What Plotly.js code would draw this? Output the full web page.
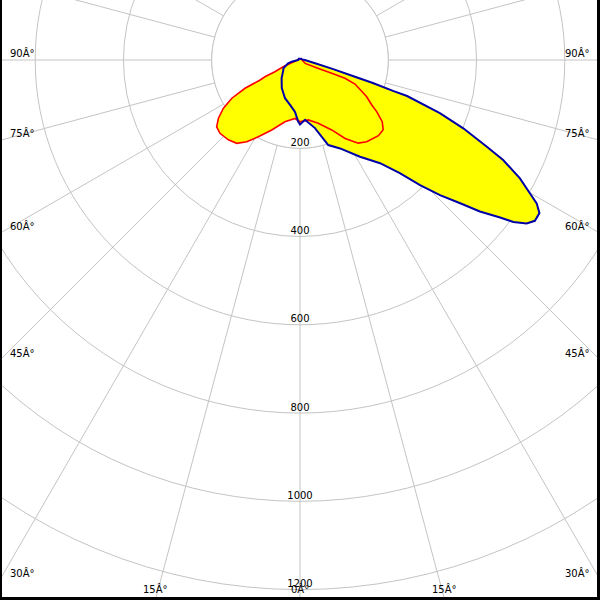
<!DOCTYPE html>
<html>
<head>
<meta charset="utf-8">
<script src="https://cdn.plot.ly/plotly-3.0.1.min.js"></script>
<style>
html,body{margin:0;padding:0;background:#fff;}
#win{position:relative;width:600px;height:600px;overflow:hidden;background:#fff;}
#plot{position:absolute;}
</style>
</head>
<body>
<div id="win"><div id="plot"></div></div>
<script>
// C0-C180 plane (red) : gamma angle (deg, 0 = down, + = right) and intensity
const redTheta = [-180,-135,-100,-79,-68.1,-64.9,-64.5,-63.4,-62.8,-60.7,-57.8,-54.5,-51.3,-47.5,-41.9,-37.2,-33.1,-28.5,-22,-13.7,-4.9,0,7.9,16.1,24.4,29.9,35,39.2,46,50,53.1,56,57.9,61.2,66.4,67.9,67.2,65.6,56.6,90,135,180];
const redR     = [2,3,4,11,41,63,88,101,140,177,205,227,242,246,243,237,221,198,171,144,133,140,137,149,174,205,230,239,247,246,233,210,192,172,136,110,78,46,14,5,3,2];
// C90-C270 plane (blue)
const blueTheta = [-180,-135,-105,-90,-78.4,-74.2,-63.6,-59.1,-45,-32.9,-21.4,-12.5,-5.5,-1.6,0,4.8,12.4,18.4,24.4,31.8,37.8,41.4,43.8,46,48.2,49.9,51.8,52.8,54.2,55.6,57.4,58.8,59.9,61.7,63.8,65.1,67.3,69.2,71.4,71.6,72.5,73.2,74.7,77.6,90,105,135,180];
const blueR     = [3,4,4,4,19,28,42,44,59,76,93,104,118,140,146,136,158,203,220,258,296,342,393,441,487,533,577,607,633,645,644,627,602,566,513,466,401,339,256,222,173,125,78,35,11,5,4,3];
// radial scale labels
const radialTicks = [200,400,600,800,1000,1200];
const radialTickText = ['200','400','600','800','1000','1200'];
// angle labels at the frame edges
const sideAngles = [90,75,60,45,30];
const sideLabels = ['90Â°','75Â°','60Â°','45Â°','30Â°'];
const bottomAngles = [-15,0,15];
const bottomLabels = ['15Â°','0Â°','15Â°'];

const W = 1324;            // big plot size, clipped by the 600x600 window
const CX = 300, CY = 60;   // pole position inside window
const offX = CX - W/2, offY = CY - W/2;
const el = document.getElementById('plot');
el.style.left = offX + 'px';
el.style.top = offY + 'px';
const px = x => (x - offX) / W;
const py = y => 1 - (y - offY) / W;

const FONT = {family:'DejaVu Sans, sans-serif', size:10, color:'#000'};
const GRID = '#c4c4c4';

// inner disc (radial lines start at the first ring)
const innerR = radialTicks[0];
const discTheta = [], discR = [];
for (let t = 0; t <= 360; t += 2) { discTheta.push(t); discR.push(innerR); }

const traces = [
  {type:'scatterpolar', r:discR, theta:discTheta, mode:'lines', fill:'toself', fillcolor:'#ffffff', line:{width:1,color:GRID}, hoverinfo:'skip'},
  {type:'scatterpolar', r:redR, theta:redTheta, mode:'lines', fill:'toself', fillcolor:'#ffff00', line:{width:0,color:'rgba(0,0,0,0)'}, hoverinfo:'skip'},
  {type:'scatterpolar', r:blueR, theta:blueTheta, mode:'lines', fill:'toself', fillcolor:'#ffff00', line:{width:0,color:'rgba(0,0,0,0)'}, hoverinfo:'skip'},
  {type:'scatterpolar', r:redR.concat([redR[0]]), theta:redTheta.concat([redTheta[0]]), mode:'lines', line:{color:'#ff0000', width:1.6}, hoverinfo:'skip'},
  {type:'scatterpolar', r:blueR.concat([blueR[0]]), theta:blueTheta.concat([blueTheta[0]]), mode:'lines', line:{color:'#0000a8', width:2}, hoverinfo:'skip'},
  {type:'scatterpolar', r:radialTicks, theta:radialTicks.map(()=>0), mode:'text', text:radialTickText, textposition:'top center', textfont:FONT, hoverinfo:'skip'}
];

const annotations = [];
sideAngles.forEach((a,i)=>{
  const hitY = CY + CX / Math.tan(a*Math.PI/180);
  annotations.push({xref:'paper', yref:'paper', x:px(8), y:py(hitY-7), xanchor:'left', yanchor:'middle', text:sideLabels[i], showarrow:false, font:FONT});
  annotations.push({xref:'paper', yref:'paper', x:px(592), y:py(hitY-7), xanchor:'right', yanchor:'middle', text:sideLabels[i], showarrow:false, font:FONT});
});
bottomAngles.forEach((a,i)=>{
  const hitX = CX + (600 - CY) * Math.tan(a*Math.PI/180);
  annotations.push({xref:'paper', yref:'paper', x:px(hitX), y:py(589), xanchor:'center', yanchor:'middle', text:bottomLabels[i], showarrow:false, font:FONT});
});

const shapes = [
  {type:'rect', xref:'paper', yref:'paper', x0:px(0), x1:px(2), y0:py(0), y1:py(600), fillcolor:'#000', line:{width:0}},
  {type:'rect', xref:'paper', yref:'paper', x0:px(597), x1:px(600), y0:py(0), y1:py(600), fillcolor:'#000', line:{width:0}},
  {type:'rect', xref:'paper', yref:'paper', x0:px(0), x1:px(600), y0:py(597), y1:py(600), fillcolor:'#000', line:{width:0}}
];

const layout = {
  width:W, height:W,
  margin:{l:0,r:0,t:0,b:0,pad:0},
  paper_bgcolor:'#fff',
  showlegend:false,
  polar:{
    domain:{x:[0,1], y:[0,1]},
    bgcolor:'#fff',
    radialaxis:{range:[0,1500], dtick:200, tick0:0, showticklabels:false, ticks:'', showline:false, gridcolor:GRID, gridwidth:1},
    angularaxis:{rotation:-90, direction:'counterclockwise', dtick:15, tick0:0, showticklabels:false, ticks:'', showline:false, gridcolor:GRID, gridwidth:1}
  },
  annotations:annotations,
  shapes:shapes
};

Plotly.newPlot(el, traces, layout, {displayModeBar:false, staticPlot:true});
</script>
</body>
</html>
